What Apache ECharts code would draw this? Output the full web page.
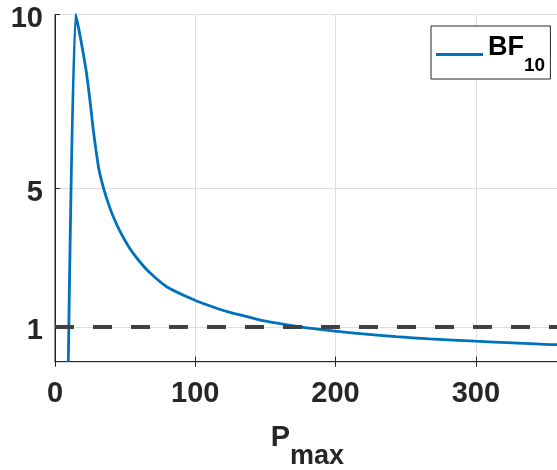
<!DOCTYPE html>
<html>
<head>
<meta charset="utf-8">
<script src="https://cdn.jsdelivr.net/npm/echarts@6/dist/echarts.min.js"></script>
<style>
html,body{margin:0;padding:0;background:#fff;}
#chart{width:557px;height:470px;}
</style>
</head>
<body>
<div id="chart"></div>
<script>
// Data
const pmax = [9.5, 14.75, 17.1, 19.7, 22.1, 24.0, 25.7, 27.3, 29.2, 31.4, 34.6, 38.0, 41.5, 46.0, 53.0, 60.0, 67.7, 79.6, 99.8, 115.2, 124.7, 137.7, 148.4, 172.2, 199.5, 219.7, 243.4, 267.2, 299.8, 326.6, 357.5, 360];
const bf10 = [0, 10, 9.55, 8.98, 8.41, 7.83, 7.25, 6.67, 6.10, 5.52, 5.0, 4.56, 4.18, 3.78, 3.28, 2.90, 2.56, 2.16, 1.77, 1.54, 1.42, 1.29, 1.18, 1.02, 0.88, 0.80, 0.72, 0.66, 0.59, 0.54, 0.49, 0.49];
const refX = [0, 360];
const refY = [1, 1];
const xTicks = [0, 100, 200, 300];
const yTicks = [1, 5, 10];

const FONT = "'Liberation Sans', Arial, sans-serif";
const DARK = '#262626';
const GRID = '#dedede';

const chart = echarts.init(document.getElementById('chart'), null, {renderer: 'canvas'});
chart.setOption({
  backgroundColor: '#ffffff',
  animation: false,
  grid: {left: 55, right: -3, top: 14.5, bottom: 108.3, containLabel: false, outerBoundsMode: 'none',
         show: true, borderColor: DARK, borderWidth: 1, backgroundColor: '#fff'},
  legend: {
    data: [{name: 'BF10', icon: 'rect'}],
    left: 431, top: 26,
    padding: [8, 5, 4, 5],
    borderColor: DARK, borderWidth: 1, backgroundColor: '#fff',
    itemWidth: 47, itemHeight: 3,
    formatter: () => '{b|BF}{s|10}{d| }',
    textStyle: {
      rich: {
        b: {fontSize: 27, fontWeight: 'bold', fontFamily: FONT, color: '#000', lineHeight: 28, verticalAlign: 'top'},
        s: {fontSize: 19, fontWeight: 'bold', fontFamily: FONT, color: '#000', lineHeight: 20, verticalAlign: 'bottom'},
        d: {fontSize: 1, lineHeight: 41}
      }
    }
  },
  xAxis: [{
    type: 'value', min: 0, max: 360, interval: 100,
    name: '{p|P}{s|max}{d| }', nameLocation: 'middle', nameGap: 62,
    nameTextStyle: {
      rich: {
        p: {fontSize: 29, fontWeight: 'bold', fontFamily: FONT, color: DARK, lineHeight: 30, verticalAlign: 'top'},
        s: {fontSize: 27, fontWeight: 'bold', fontFamily: FONT, color: DARK, lineHeight: 26, verticalAlign: 'bottom'},
        d: {fontSize: 1, lineHeight: 46}
      }
    },
    axisLine: {show: true, onZero: false, lineStyle: {color: DARK, width: 1}},
    axisTick: {show: true, inside: true, length: 5, lineStyle: {color: DARK}, customValues: xTicks},
    axisLabel: {customValues: xTicks, fontSize: 29, fontWeight: 'bold', fontFamily: FONT, color: DARK, margin: 18},
    splitLine: {show: true, lineStyle: {color: GRID, width: 1}}
  }, {
    type: 'value', min: 0, max: 360, interval: 100, position: 'top',
    axisLine: {show: true, lineStyle: {color: DARK, width: 1}},
    axisTick: {show: true, inside: true, length: 5, lineStyle: {color: DARK}, customValues: xTicks},
    axisLabel: {show: false},
    splitLine: {show: false}
  }],
  yAxis: {
    type: 'value', min: 0, max: 10,
    axisLine: {show: true, onZero: false, lineStyle: {color: DARK, width: 1}},
    axisTick: {show: true, inside: true, length: 5, lineStyle: {color: DARK}, customValues: yTicks},
    axisLabel: {customValues: yTicks, fontSize: 29, fontWeight: 'bold', fontFamily: FONT, color: DARK, margin: 12, verticalAlign: 'top', lineHeight: 9},
    splitLine: {show: true, lineStyle: {color: GRID, width: 1}}
  },
  series: [{
    name: 'BF10', type: 'line', showSymbol: false, symbol: 'none', smooth: 0.25,
    data: pmax.map((x, i) => [x, bf10[i]]),
    lineStyle: {color: '#0072BD', width: 2.8},
    itemStyle: {color: '#0072BD'},
    clip: true
  }, {
    name: 'ref', type: 'line', showSymbol: false, symbol: 'none', silent: true,
    data: refX.map((x, i) => [x, refY[i]]),
    lineStyle: {color: '#404040', width: 4, type: [19, 19]},
    itemStyle: {color: '#404040'}
  }]
});
</script>
</body>
</html>
